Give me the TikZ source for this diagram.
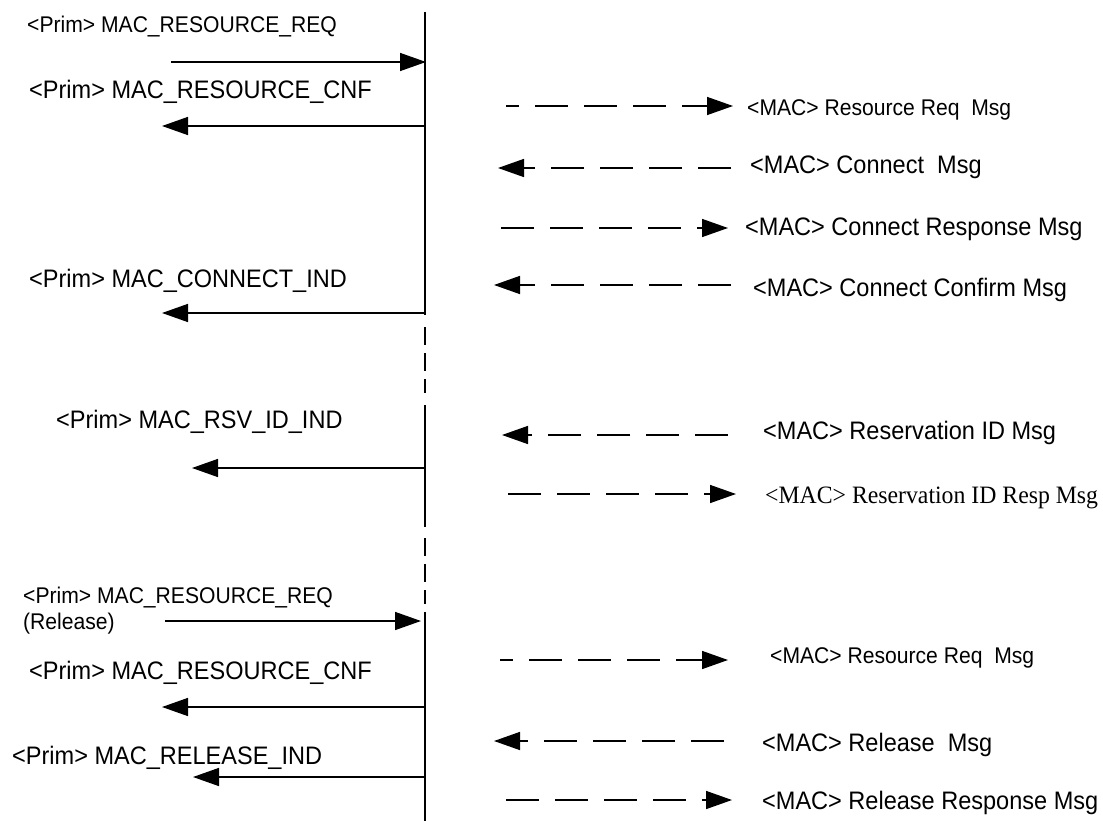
\documentclass[tikz,border=0pt]{standalone}
\usepackage{fontspec}
\setmainfont{Liberation Sans}[FakeStretch=0.93]
\newfontfamily\msgserif{Liberation Serif}[FakeStretch=0.95]
\usetikzlibrary{arrows.meta}
\tikzset{
  lbl/.style={anchor=base west, inner sep=0pt, font=\fontsize{25.3}{28}\selectfont},
  lbls/.style={anchor=base west, inner sep=0pt, font=\fontsize{22.7}{26}\selectfont},
  lblserif/.style={anchor=base west, inner sep=0pt, font=\msgserif\fontsize{25}{28}\selectfont},
  solidarr/.style={line width=1.5pt, -{Triangle[length=26pt,width=18pt]}},
  dasharr/.style={line width=1.5pt, dash pattern=on 33pt off 16pt, -{Triangle[length=26pt,width=18pt]}},
  life/.style={line width=1.5pt},
  lifedash/.style={line width=1.5pt, dash pattern=on 18pt off 8pt}
}
\begin{document}
\begin{tikzpicture}[x=1pt,y=-1pt]
\useasboundingbox (0,0) rectangle (1103,821);
% lifeline
\coordinate (t0) at (425,12);
\coordinate (t1) at (425,315);
\coordinate (d1a) at (425,327);
\coordinate (d1b) at (425,393);
\coordinate (t2) at (425,405);
\coordinate (t3) at (425,527);
\coordinate (d2a) at (425,538);
\coordinate (d2b) at (425,604);
\coordinate (t4) at (425,612);
\coordinate (t5) at (425,821);
\draw[life] (t0) -- (t1);
\draw[lifedash] (d1a) -- (d1b);
\draw[life] (t2) -- (t3);
\draw[lifedash] (d2a) -- (d2b);
\draw[life] (t4) -- (t5);

% left labels
\node[lbls] (L1) at (27,33) {<Prim> MAC\_RESOURCE\_REQ};
\node[lbl] (L2) at (29,99) {<Prim> MAC\_RESOURCE\_CNF};
\node[lbl] (L3) at (29,287) {<Prim> MAC\_CONNECT\_IND};
\node[lbl] (L4) at (56,428) {<Prim> MAC\_RSV\_ID\_IND};
\node[lbls] (L5) at (23,603) {<Prim> MAC\_RESOURCE\_REQ};
\node[lbls] (L5b) at (23,629) {(Release)};
\node[lbl] (L6) at (29,679) {<Prim> MAC\_RESOURCE\_CNF};
\node[lbl] (L7) at (12,764) {<Prim> MAC\_RELEASE\_IND};

% left arrows
\coordinate (a1s) at (171,62);  \coordinate (a1e) at (426,62);
\coordinate (a2s) at (425,126); \coordinate (a2e) at (162,126);
\coordinate (a3s) at (425,313); \coordinate (a3e) at (162,313);
\coordinate (a4s) at (425,468); \coordinate (a4e) at (192,468);
\coordinate (a5s) at (165,621); \coordinate (a5e) at (421,621);
\coordinate (a6s) at (425,707); \coordinate (a6e) at (162,707);
\coordinate (a7s) at (425,777); \coordinate (a7e) at (193,777);
\draw[solidarr] (a1s) -- (a1e);
\draw[solidarr] (a2s) -- (a2e);
\draw[solidarr] (a3s) -- (a3e);
\draw[solidarr] (a4s) -- (a4e);
\draw[solidarr] (a5s) -- (a5e);
\draw[solidarr] (a6s) -- (a6e);
\draw[solidarr] (a7s) -- (a7e);

% right dashed arrows
\coordinate (r1s) at (506,106); \coordinate (r1e) at (733,106);
\coordinate (r2s) at (731,168); \coordinate (r2e) at (498,168);
\coordinate (r3s) at (501,228); \coordinate (r3e) at (728,228);
\coordinate (r4s) at (731,285); \coordinate (r4e) at (494,285);
\coordinate (r5s) at (728,435); \coordinate (r5e) at (502,435);
\coordinate (r6s) at (508,494); \coordinate (r6e) at (736,494);
\coordinate (r7s) at (500,660); \coordinate (r7e) at (728,660);
\coordinate (r8s) at (724,741); \coordinate (r8e) at (494,741);
\coordinate (r9s) at (506,800); \coordinate (r9e) at (732,800);
\draw[dasharr, dash phase=20pt] (r1s) -- (r1e);
\draw[dasharr] (r2s) -- (r2e);
\draw[dasharr] (r3s) -- (r3e);
\draw[dasharr] (r4s) -- (r4e);
\draw[dasharr] (r5s) -- (r5e);
\draw[dasharr] (r6s) -- (r6e);
\draw[dasharr, dash phase=20pt] (r7s) -- (r7e);
\draw[dasharr] (r8s) -- (r8e);
\draw[dasharr] (r9s) -- (r9e);

% right labels
\node[lbls] (R1) at (747,116) {<MAC> Resource Req~~Msg};
\node[lbl] (R2) at (750,174) {<MAC> Connect~~Msg};
\node[lbl] (R3) at (745,236) {<MAC> Connect Response Msg};
\node[lbl] (R4) at (753,296) {<MAC> Connect Confirm Msg};
\node[lbl] (R5) at (763,439) {<MAC> Reservation ID Msg};
\node[lblserif] (R6) at (765,503) {<MAC> Reservation ID Resp Msg};
\node[lbls] (R7) at (770,663) {<MAC> Resource Req~~Msg};
\node[lbl] (R8) at (762,751) {<MAC> Release~~Msg};
\node[lbl] (R9) at (762,809) {<MAC> Release Response Msg};
\end{tikzpicture}
\end{document}
